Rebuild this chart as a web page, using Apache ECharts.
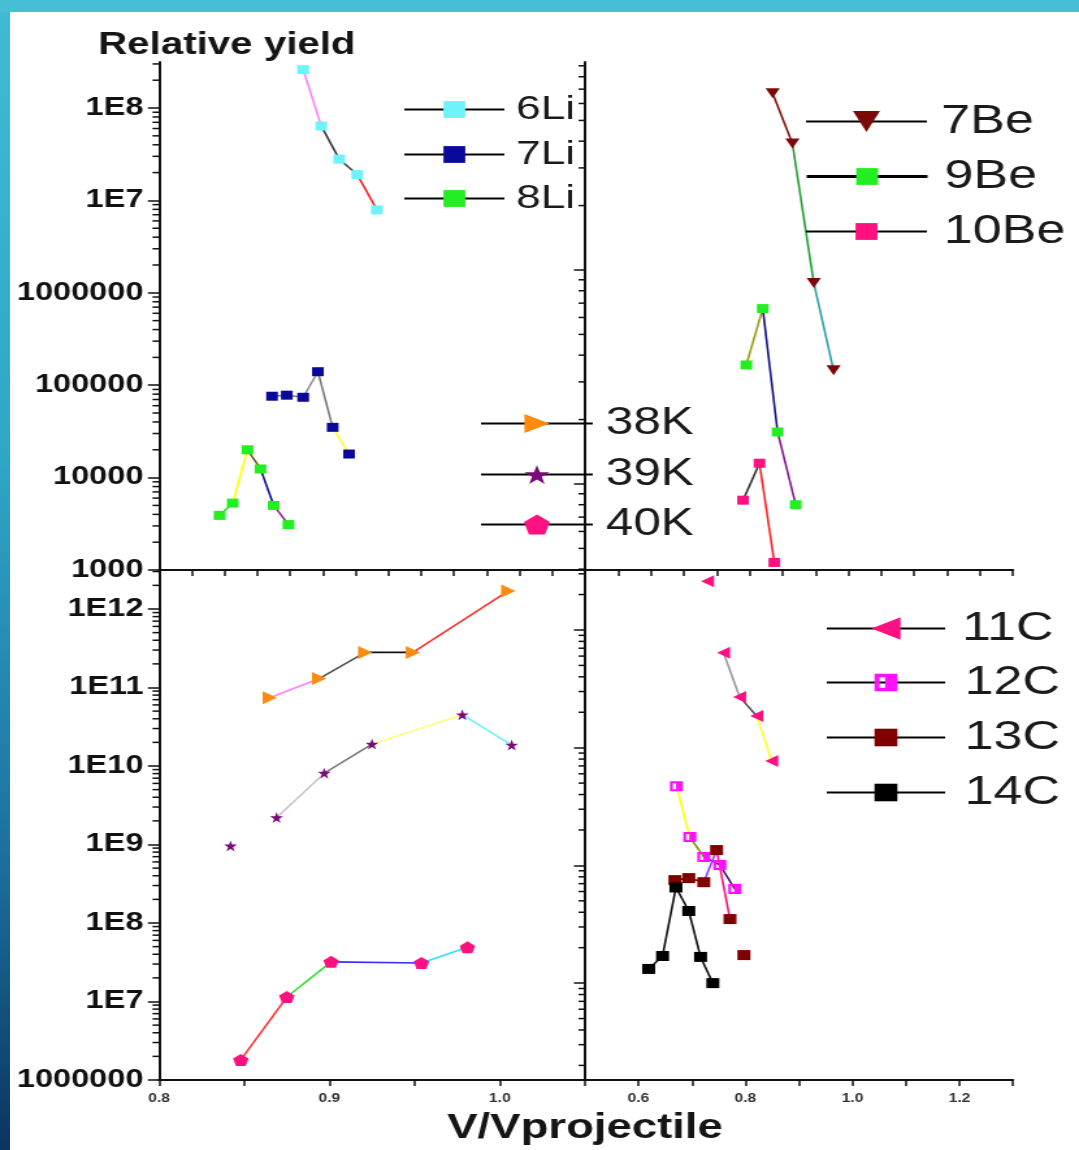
<!DOCTYPE html>
<html><head><meta charset="utf-8">
<script src="https://cdn.jsdelivr.net/npm/echarts@6/dist/echarts.min.js"></script>
<style>
html,body{margin:0;padding:0;background:#fff;width:1079px;height:1150px;overflow:hidden;position:relative}
#stripL{position:absolute;left:0;top:0;width:10px;height:1150px;background:linear-gradient(#40bbd4,#2ea6c8 40%,#1b6f9f 75%,#0b3560)}
#stripT{position:absolute;left:0;top:0;width:1079px;height:12px;background:#46bed6}
#chart{position:absolute;left:0;top:0;width:830px;height:1150px;transform:scaleX(1.3);transform-origin:0 0}
</style></head>
<body><div id="stripL"></div><div id="stripT"></div><div id="chart"></div>
<script>
// ---------- data ----------
const li6X = [0.888, 0.899, 0.910, 0.921, 0.933];
const li6Y = [2.6e8, 6.4e7, 2.8e7, 1.9e7, 7.9e6];
const li7X = [0.869, 0.878, 0.888, 0.897, 0.906, 0.916];
const li7Y = [7.6e4, 7.8e4, 7.4e4, 1.4e5, 3.5e4, 1.8e4];
const li8X = [0.837, 0.845, 0.854, 0.862, 0.870, 0.879];
const li8Y = [3.9e3, 5.3e3, 2.0e4, 1.24e4, 5.0e3, 3.1e3];
const be7X = [0.914, 0.926, 0.939, 0.951];
const be7Y = [6.7e7, 3.9e7, 8.7e6, 3.4e6];
const be9X = [0.898, 0.908, 0.917, 0.928];
const be9Y = [3.6e6, 6.6e6, 1.75e6, 8.0e5];
const be10X = [0.896, 0.906, 0.915];
const be10Y = [8.4e5, 1.25e6, 4.3e5];
const k38X = [0.865, 0.894, 0.921, 0.949, 1.005];
const k38Y = [7.4e10, 1.3e11, 2.8e11, 2.8e11, 1.7e12];
const k39X = [0.842, 0.869, 0.897, 0.925, 0.978, 1.007];
const k39Y = [9.6e8, 2.2e9, 8.1e9, 1.9e10, 4.5e10, 1.85e10];
const k40X = [0.848, 0.875, 0.901, 0.954, 0.981];
const k40Y = [1.8e6, 1.14e7, 3.2e7, 3.1e7, 4.9e7];
const c11X = [0.729, 0.759, 0.789, 0.821, 0.849];
const c11Y = [2.6e9, 6.4e8, 2.7e8, 1.86e8, 7.7e7];
const c12X = [0.671, 0.696, 0.722, 0.752, 0.780];
const c12Y = [4.7e7, 1.74e7, 1.18e7, 1.01e7, 6.3e6];
const c13X = [0.668, 0.694, 0.722, 0.746, 0.771, 0.797];
const c13Y = [7.5e6, 7.8e6, 7.2e6, 1.35e7, 3.5e6, 1.73e6];
const c14X = [0.619, 0.645, 0.670, 0.694, 0.716, 0.739];
const c14Y = [1.32e6, 1.7e6, 6.5e6, 4.1e6, 1.67e6, 1.0e6];

// tick labels
const yLabelsTop = [1e3, 1e4, 1e5, 1e6, 1e7, 1e8];
const yLabelsBottom = [1e6, 1e7, 1e8, 1e9, 1e10, 1e11, 1e12];
const xLabelsBL = [0.8, 0.9, 1.0];
const xLabelsBR = [0.6, 0.8, 1.0, 1.2];

// ---------- styles ----------
const segStyle = {
  '6Li': ['#ff80ff', '#3a3a3a', '#505050', '#ff2020'],
  '7Li': ['#808080', '#808080', '#909090', '#7a7a7a', '#ffff20'],
  '8Li': ['#20e020', '#ffff00', '#6b5a10', '#101090', '#902090'],
  '7Be': ['#8b1010', '#20a030', '#30a0a8'],
  '9Be': ['#9a9a10', '#10108a', '#801890'],
  '10Be': ['#303030', '#ff2020'],
  '38K': ['#ff80ff', '#505050', '#111111', '#ff3030'],
  '39K': [null, '#c8c8c8', '#7a7a7a', '#ffff70', '#70f0ff'],
  '40K': ['#ff3030', '#30e030', '#3030ff', '#30e0ff'],
  '11C': [null, '#9a9a9a', '#505050', '#ffff30'],
  '12C': ['#ffff00', '#8a8a10', '#40107a', '#40107a'],
  '13C': ['#800000', '#800000', '#9040ff', '#ff1080', null],
  '14C': ['#111111', '#111111', '#111111', '#111111', '#111111']
};
const PENT = 'path://M50,0 L97.6,34.5 L79.4,90.5 L20.6,90.5 L2.4,34.5 Z';
const STAR = 'path://M50,0 L61.8,35.1 L98.9,35.1 L69,57 L80.3,92.7 L50,70.9 L19.7,92.7 L31,57 L1.1,35.1 L38.2,35.1 Z';
const HALF = 'path://M0,0 L10,0 L10,10 L0,10 Z M2.2,2 L2.2,8 L4.6,8 L4.6,2 Z';

const specs = [
  {name: '6Li', x: li6X, y: li6Y, g: 0, color: '#6ff3fb', symbol: 'rect', size: [9, 9], rot: 0},
  {name: '7Li', x: li7X, y: li7Y, g: 0, color: '#0a0a9a', symbol: 'rect', size: [9, 9], rot: 0},
  {name: '8Li', x: li8X, y: li8Y, g: 0, color: '#22ee22', symbol: 'rect', size: [9, 9], rot: 0},
  {name: '7Be', x: be7X, y: be7Y, g: 1, color: '#7a0a0a', symbol: 'triangle', size: [11, 10], rot: 180},
  {name: '9Be', x: be9X, y: be9Y, g: 1, color: '#22ee22', symbol: 'rect', size: [9, 9], rot: 0},
  {name: '10Be', x: be10X, y: be10Y, g: 1, color: '#ff1080', symbol: 'rect', size: [9, 9], rot: 0},
  {name: '38K', x: k38X, y: k38Y, g: 2, color: '#ff8a10', symbol: 'triangle', size: [13, 11], rot: -90},
  {name: '39K', x: k39X, y: k39Y, g: 2, color: '#7a0a7a', symbol: STAR, size: [10, 11], rot: 0},
  {name: '40K', x: k40X, y: k40Y, g: 2, color: '#ff1080', symbol: PENT, size: [12, 12], rot: 0},
  {name: '11C', x: c11X, y: c11Y, g: 3, color: '#ff1080', symbol: 'triangle', size: [12, 10], rot: 90},
  {name: '12C', x: c12X, y: c12Y, g: 3, color: '#ff10ff', symbol: HALF, size: [10, 10], rot: 0},
  {name: '13C', x: c13X, y: c13Y, g: 3, color: '#800000', symbol: 'rect', size: [10, 10], rot: 0},
  {name: '14C', x: c14X, y: c14Y, g: 3, color: '#000000', symbol: 'rect', size: [10, 10], rot: 0}
];

// ---------- axes ----------
const grids = [
  {left: 122.3, top: 62, width: 327.7, height: 508},
  {left: 450, top: 62, width: 329.2, height: 508},
  {left: 122.3, top: 571, width: 327.7, height: 509},
  {left: 450, top: 571, width: 329.2, height: 509}
];
const xRanges = [[0.8, 1.06], [0.8, 1.06], [0.8, 1.05], [0.5, 1.3]];
const yRanges = [
  [1e3, Math.pow(10, 8.498)],
  [Math.pow(10, 5.598), Math.pow(10, 7.972)],
  [1e6, Math.pow(10, 12.484)],
  [Math.pow(10, 5.177), Math.pow(10, 9.501)]
];
function logTicks(r, minor) {
  const out = [];
  const e0 = Math.floor(Math.log10(r[0])), e1 = Math.ceil(Math.log10(r[1]));
  for (let e = e0; e <= e1; e++) {
    if (minor) {
      for (let k = 2; k <= 9; k++) { const v = k * Math.pow(10, e); if (v >= r[0] && v <= r[1]) out.push(v); }
    } else {
      const v = Math.pow(10, e); if (v >= r[0] * 0.999 && v <= r[1] * 1.001) out.push(v);
    }
  }
  return out;
}
function yFmt(v) {
  const e = Math.log10(v);
  const re = Math.round(e);
  if (Math.abs(e - re) > 0.01) return '';
  return re >= 7 ? '1E' + re : String(Math.pow(10, re));
}
const AX = '#111';
const yAxes = [];
for (let g = 0; g < 4; g++) {
  const labels = g === 0 ? yLabelsTop : (g === 2 ? yLabelsBottom : []);
  yAxes.push({
    type: 'log', logBase: 10, gridIndex: g, min: yRanges[g][0], max: yRanges[g][1], position: 'left',
    axisLine: {show: true, onZero: false, lineStyle: {color: AX, width: 2}},
    axisTick: {show: true, length: 8.5, lineStyle: {color: AX, width: 1.5}, customValues: logTicks(yRanges[g], false)},
    axisLabel: {show: labels.length > 0, customValues: labels, formatter: yFmt, margin: 12,
      fontSize: 25, fontWeight: 'bold', fontFamily: 'Liberation Sans', color: '#111'},
    splitLine: {show: false}, minorTick: {show: false}
  });
}
function xAxisCfg(g, interval, labels) {
  return {
    type: 'value', gridIndex: g, min: xRanges[g][0], max: xRanges[g][1], interval: interval, position: 'bottom',
    axisLine: {onZero: false, lineStyle: {color: AX, width: 2}},
    axisTick: {length: 6, lineStyle: {color: AX, width: 1.5}},
    axisLabel: {show: labels.length > 0, margin: 13, fontSize: 12, fontWeight: 'bold', fontFamily: 'Liberation Sans', color: '#333',
      formatter: function (v) { return labels.some(function (l) { return Math.abs(l - v) < 1e-6; }) ? v.toFixed(1) : ''; }},
    splitLine: {show: false}
  };
}
const xAxes = [
  xAxisCfg(0, 0.02, []),
  xAxisCfg(1, 0.02, []),
  xAxisCfg(2, 0.05, xLabelsBL),
  xAxisCfg(3, 0.1, xLabelsBR)
];

// ---------- series ----------
const series = [];
// minor log ticks on every y axis, placed through the axis scale
for (let g = 0; g < 4; g++) {
  series.push({
    type: 'custom', name: 'minorTicks' + g, xAxisIndex: g, yAxisIndex: g, silent: true, clip: false, z: 5,
    data: logTicks(yRanges[g], true).map(function (v) { return [xRanges[g][0], v]; }),
    renderItem: function (params, api) {
      const p = api.coord([api.value(0), api.value(1)]);
      return {type: 'line', shape: {x1: p[0] - 5, y1: p[1], x2: p[0], y2: p[1]}, style: {stroke: AX, lineWidth: 1.5}};
    }
  });
}
specs.forEach(function (s) {
  const segs = segStyle[s.name];
  for (let i = 0; i < s.x.length - 1; i++) {
    if (!segs[i]) continue;
    series.push({
      type: 'line', name: s.name + '_seg' + i, xAxisIndex: s.g, yAxisIndex: s.g,
      data: [[s.x[i], s.y[i]], [s.x[i + 1], s.y[i + 1]]],
      symbol: 'none', silent: true, z: 2, lineStyle: {color: segs[i], width: 1.6}
    });
  }
  series.push({
    type: 'line', name: s.name, xAxisIndex: s.g, yAxisIndex: s.g,
    data: s.x.map(function (v, i) { return [v, s.y[i]]; }),
    symbol: s.symbol, symbolSize: s.size, symbolRotate: s.rot, showSymbol: true, showAllSymbol: true,
    itemStyle: {color: s.color, opacity: 1}, lineStyle: {opacity: 0, width: 0, color: '#000'}, z: 3, silent: true
  });
});

// ---------- legends ----------
const legends = [];
function addLegend(name, left, cy, w, h, fs, pad, lw) {
  const boxH = Math.max(h, fs - 3);
  legends.push({
    show: true, orient: 'vertical', left: left, top: cy - boxH / 2, padding: 0, itemGap: 0,
    itemWidth: w, itemHeight: h, selectedMode: false, data: [name],
    lineStyle: {color: '#000', width: lw, opacity: 1, type: 'solid'},
    textStyle: {fontSize: fs, fontFamily: 'Liberation Sans', color: '#1a1a1a', lineHeight: h, padding: [0, 0, 0, pad]}
  });
}
addLegend('6Li', 310, 108, 77, 21, 34, 4, 2);
addLegend('7Li', 310, 153, 77, 21, 34, 4, 2);
addLegend('8Li', 310, 197, 77, 21, 34, 4, 2);
addLegend('7Be', 619, 120, 93, 26, 40, 6, 2);
addLegend('9Be', 619, 175, 93, 21, 40, 8, 3);
addLegend('10Be', 619, 230, 93, 21, 40, 8, 2);
addLegend('38K', 369, 422, 86, 24, 38, 5, 2);
addLegend('39K', 369, 473, 86, 24, 38, 5, 2);
addLegend('40K', 369, 523, 86, 25, 38, 5, 2);
addLegend('11C', 635, 627, 91, 28, 40, 8, 2);
addLegend('12C', 635, 681, 91, 22, 40, 10, 2);
addLegend('13C', 635, 736, 91, 22, 40, 10, 2);
addLegend('14C', 635, 791, 91, 22, 40, 10, 2);

const chart = echarts.init(document.getElementById('chart'), null, {renderer: 'canvas'});
chart.setOption({
  animation: false,
  backgroundColor: 'transparent',
  grid: grids,
  xAxis: xAxes,
  yAxis: yAxes,
  legend: legends,
  series: series,
  graphic: [
    {type: 'text', x: 75.4, y: 45, style: {text: 'Relative yield', font: 'bold 31px "Liberation Sans"', fill: '#151515', verticalAlign: 'middle', align: 'left'}},
    {type: 'text', x: 344, y: 1128, style: {text: 'V/Vprojectile', font: 'bold 35px "Liberation Sans"', fill: '#151515', verticalAlign: 'middle', align: 'left'}}
  ]
});
</script></body></html>
